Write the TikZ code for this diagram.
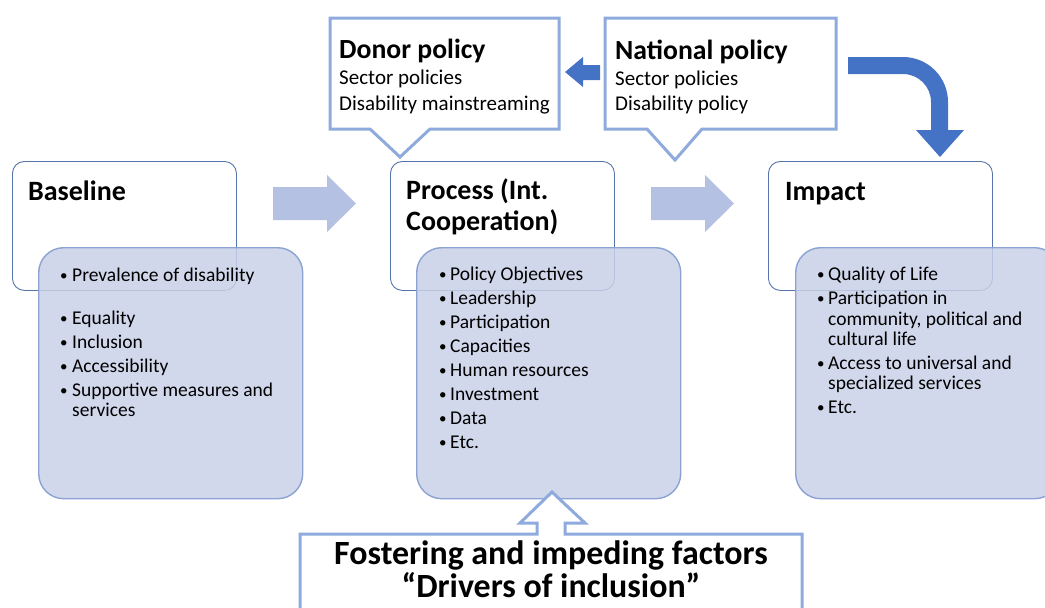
\documentclass[tikz,border=0pt]{standalone}
\usepackage{fontspec}
\setmainfont{Carlito}
\definecolor{frameDark}{RGB}{84,116,170}
\definecolor{panelFill}{RGB}{201,209,232}
\definecolor{panelEdge}{RGB}{140,162,210}
\definecolor{calloutEdge}{RGB}{143,170,220}
\definecolor{flowArrow}{RGB}{180,193,226}
\definecolor{policyArrow}{RGB}{68,114,196}
\begin{document}
\begin{tikzpicture}[x=1pt,y=-1pt,
  stagebox/.style={draw=frameDark, line width=0.9pt, fill=white, rounded corners=12pt,
    anchor=north west, inner sep=0, minimum width=224pt, minimum height=129pt},
  listbox/.style={draw=panelEdge, line width=1.4pt, fill=panelFill, fill opacity=0.85,
    rounded corners=25pt, anchor=north west, inner sep=0, minimum width=264pt, minimum height=251pt},
  callout/.style={draw=calloutEdge, line width=3pt, fill=white, line join=miter},
  flow/.style={fill=flowArrow, draw=none},
  policy/.style={fill=policyArrow, draw=none},
  headtxt/.style={anchor=base west, inner sep=0, font=\fontsize{28}{30}\selectfont\bfseries},
  itemtxt/.style={anchor=base west, inner sep=0, font=\fontsize{19.5}{22}\selectfont},
  bullettxt/.style={anchor=base west, inner sep=0, font=\fontsize{15}{18}\selectfont},
  ctitle/.style={anchor=base west, inner sep=0, font=\fontsize{27.7}{30}\selectfont\bfseries},
  cbody/.style={anchor=base west, inner sep=0, font=\fontsize{21}{24}\selectfont},
  foottxt/.style={anchor=base, inner sep=0, font=\fontsize{33.9}{36}\selectfont\bfseries}
]
\useasboundingbox (0,0) rectangle (1045,608);

% stage boxes (white headers) and their item panels
\node[stagebox] (baseW) at (12,161) {};
\node[stagebox] (procW) at (390,161) {};
\node[stagebox] (impW)  at (768,161) {};
\node[listbox] (baseL) at (38,247) {};
\node[listbox] (procL) at (416,247) {};
\node[listbox] (impL)  at (795,247) {};

% stage headings
\node[headtxt] (hBase) at (28,200) {Baseline};
\node[headtxt] (hProc1) at (406,199) {Process (Int.};
\node[headtxt] (hProc2) at (406,230) {Cooperation)};
\node[headtxt] (hImp) at (785,200) {Impact};

% baseline items
\foreach \t/\yy/\b in {{Prevalence of disability}/281/1, Equality/324/1, Inclusion/348/1,
    Accessibility/372/1, {Supportive measures and}/396/1, services/416/0}{
  \ifnum\b=1 \node[bullettxt] at (60,\yy-1) {\textbullet};\fi
  \node[itemtxt] at (72,\yy) {\t};
}
% process items
\foreach \t/\yy in {{Policy Objectives}/280, Leadership/304, Participation/328, Capacities/352,
    {Human resources}/376, Investment/400, Data/424, Etc./448}{
  \node[bullettxt] at (439,\yy-1) {\textbullet};
  \node[itemtxt] at (450,\yy) {\t};
}
% impact items
\foreach \t/\yy/\b in {{Quality of Life}/280/1, {Participation in}/304/1,
    {community, political and}/325/0, {cultural life}/345/0,
    {Access to universal and}/369/1, {specialized services}/389/0, Etc./413/1}{
  \ifnum\b=1 \node[bullettxt] at (817,\yy-1) {\textbullet};\fi
  \node[itemtxt] at (828,\yy) {\t};
}

% flow arrows between the stages
\draw[flow] (273,187) -- (327,187) -- (327,175) -- (356,203.5) -- (327,232) -- (327,220) -- (273,220) -- cycle;
\draw[flow] (651,187) -- (705,187) -- (705,175) -- (734,203.5) -- (705,232) -- (705,220) -- (651,220) -- cycle;

% policy callouts
\draw[callout] (330,18) -- (559,18) -- (559,129) -- (430,129) -- (400,157) -- (370,129) -- (330,129) -- cycle;
\draw[callout] (605,18) -- (836,18) -- (836,129) -- (702,129) -- (675,160) -- (647,129) -- (605,129) -- cycle;
\node[ctitle] (donorT) at (339,58) {Donor policy};
\node[cbody] at (339,84) {Sector policies};
\node[cbody] at (339,110) {Disability mainstreaming};
\node[ctitle] (natT) at (615,59) {National policy};
\node[cbody] at (615,85) {Sector policies};
\node[cbody] at (615,110) {Disability policy};

% national to donor arrow
\draw[policy] (565,72) -- (583,57) -- (583,65) -- (600,65) -- (600,80) -- (583,80) -- (583,87) -- cycle;

% bent arrow from national policy down to impact
\draw[policy] (848,57) -- (903,57) arc[start angle=-90, end angle=0, radius=45] -- (948,130)
  -- (964,130) -- (940,157) -- (916,130) -- (931,130) -- (931,102)
  arc[start angle=0, end angle=-90, radius=28] -- (848,74) -- cycle;

% drivers box with its upward arrow
\draw[callout, fill=white] (300,640) -- (300,534) -- (537,534) -- (537,523) -- (520,523) -- (552,492)
  -- (585,523) -- (565,523) -- (565,534) -- (802,534) -- (802,640);
\node[foottxt] (drv1) at (551,564) {Fostering and impeding factors};
\node[foottxt] (drv2) at (551,597) {“Drivers of inclusion”};
\end{tikzpicture}
\end{document}
